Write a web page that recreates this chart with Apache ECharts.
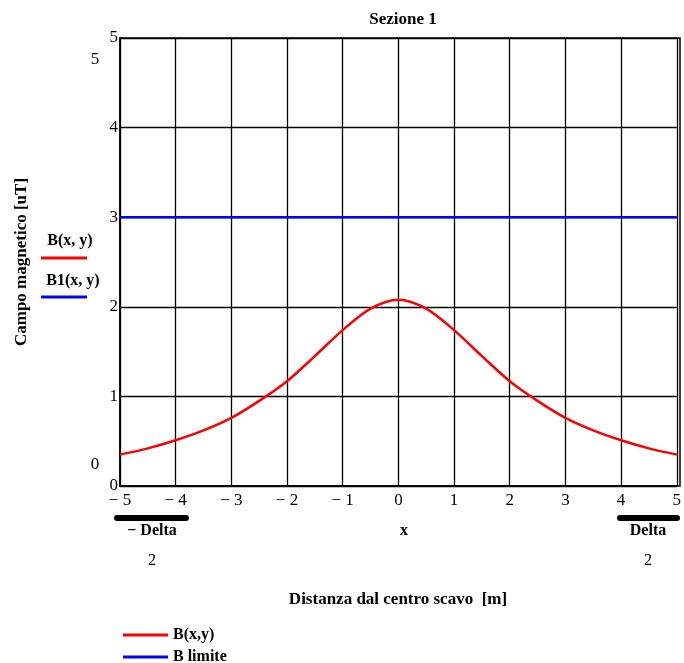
<!DOCTYPE html>
<html>
<head>
<meta charset="utf-8">
<script src="https://cdn.jsdelivr.net/npm/echarts@6/dist/echarts.min.js"></script>
<style>
  html, body { margin: 0; padding: 0; background: #fff; }
  #main { width: 684px; height: 663px; }
</style>
</head>
<body>
<div id="main"></div>
<script>
// distance from the centre (m)
const xs = [-5, -4.5, -4, -3.5, -3, -2.5, -2, -1.5, -1, -0.5, 0, 0.5, 1, 1.5, 2, 2.5, 3, 3.5, 4, 4.5, 5];
// B(x,y) in uT
const bVals = [0.35, 0.42, 0.51, 0.62, 0.76, 0.95, 1.17, 1.45, 1.74, 1.98, 2.08, 1.98, 1.74, 1.45, 1.17, 0.95, 0.76, 0.62, 0.51, 0.42, 0.35];
// B limite
const limX = [-5, 5];
const limVals = [3, 3];
const xTicks = ['\u2212 5', '\u2212 4', '\u2212 3', '\u2212 2', '\u2212 1', '0', '1', '2', '3', '4', '5'];

const serif = '"Liberation Serif", "DejaVu Serif", serif';

window.addEventListener('load', function () {
    let chart = echarts.init(document.getElementById('main'));
    let option = {
        backgroundColor: '#fff',
        animation: false,
        textStyle: { fontFamily: serif, color: '#000' },
        title: {
            text: 'Sezione 1',
            left: 398, top: 6,
            textAlign: 'center',
            textStyle: { fontFamily: serif, fontSize: 17, fontWeight: 'bold', color: '#000' }
        },
        grid: { left: 120, right: 4, top: 38, bottom: 177 },
        legend: {
            orient: 'vertical',
            left: 118, top: 622, height: 60,
            itemWidth: 45, itemHeight: 3, itemGap: 6,
            icon: 'rect',
            textStyle: { fontFamily: serif, fontSize: 16, fontWeight: 'bold', color: '#000' },
            data: ['B(x,y)', 'B limite']
        },
        xAxis: {
            type: 'value', min: -5, max: 5, interval: 1,
            axisLine: { show: true, onZero: false, lineStyle: { color: '#000', width: 1.5 } },
            axisTick: { show: false },
            axisLabel: {
                fontFamily: serif, fontSize: 17, color: '#000', margin: 6,
                formatter: function (v) { return xTicks[Math.round(v) + 5]; }
            },
            splitLine: { show: true, lineStyle: { color: '#000', width: 1.3 } }
        },
        yAxis: {
            type: 'value', min: 0, max: 5, interval: 1,
            axisLine: { show: true, onZero: false, lineStyle: { color: '#000', width: 1.5 } },
            axisTick: { show: false },
            axisLabel: { fontFamily: serif, fontSize: 17, color: '#000', margin: 2 },
            splitLine: { show: true, lineStyle: { color: '#000', width: 1.3 } }
        },
        series: [
            {
                name: 'B(x,y)', type: 'line', smooth: 0.3, showSymbol: false,
                data: xs.map((x, i) => [x, bVals[i]]),
                lineStyle: { color: '#ff0000', width: 2.5 },
                itemStyle: { color: '#ff0000' }
            },
            {
                name: 'B limite', type: 'line', showSymbol: false,
                data: limX.map((x, i) => [x, limVals[i]]),
                lineStyle: { color: '#0000ff', width: 2.5 },
                itemStyle: { color: '#0000ff' }
            }
        ],
        graphic: [
            // frame top & right
            { type: 'rect', shape: { x: 120, y: 38, width: 560, height: 448 }, style: { fill: 'none', stroke: '#000', lineWidth: 1.5 }, silent: true },
            // y axis name
            { type: 'text', x: 22, y: 262, rotation: Math.PI / 2, style: { text: 'Campo magnetico [uT]', font: 'bold 17px ' + serif, fill: '#000', align: 'center', verticalAlign: 'middle' } },
            // y range markers
            { type: 'text', x: 95, y: 60, style: { text: '5', font: '17px ' + serif, fill: '#000', align: 'center', verticalAlign: 'middle' } },
            { type: 'text', x: 95, y: 465, style: { text: '0', font: '17px ' + serif, fill: '#000', align: 'center', verticalAlign: 'middle' } },
            // left legend
            { type: 'text', x: 70, y: 241, style: { text: 'B(x, y)', font: 'bold 16px ' + serif, fill: '#000', align: 'center', verticalAlign: 'middle' } },
            { type: 'line', shape: { x1: 41, y1: 258, x2: 87, y2: 258 }, style: { stroke: '#ff0000', lineWidth: 3 } },
            { type: 'text', x: 73, y: 281, style: { text: 'B1(x, y)', font: 'bold 16px ' + serif, fill: '#000', align: 'center', verticalAlign: 'middle' } },
            { type: 'line', shape: { x1: 41, y1: 297, x2: 87, y2: 297 }, style: { stroke: '#0000ff', lineWidth: 3 } },
            // x annotations
            { type: 'line', shape: { x1: 117, y1: 518, x2: 186, y2: 518 }, style: { stroke: '#000', lineWidth: 6, lineCap: 'round' } },
            { type: 'text', x: 152, y: 531, style: { text: '\u2212 Delta', font: 'bold 16px ' + serif, fill: '#000', align: 'center', verticalAlign: 'middle' } },
            { type: 'text', x: 152, y: 561, style: { text: '2', font: '16px ' + serif, fill: '#000', align: 'center', verticalAlign: 'middle' } },
            { type: 'text', x: 404, y: 531, style: { text: 'x', font: 'bold 16px ' + serif, fill: '#000', align: 'center', verticalAlign: 'middle' } },
            { type: 'line', shape: { x1: 620, y1: 518, x2: 677, y2: 518 }, style: { stroke: '#000', lineWidth: 6, lineCap: 'round' } },
            { type: 'text', x: 648, y: 531, style: { text: 'Delta', font: 'bold 16px ' + serif, fill: '#000', align: 'center', verticalAlign: 'middle' } },
            { type: 'text', x: 648, y: 561, style: { text: '2', font: '16px ' + serif, fill: '#000', align: 'center', verticalAlign: 'middle' } },
            { type: 'text', x: 398, y: 600, style: { text: 'Distanza dal centro scavo  [m]', font: 'bold 17px ' + serif, fill: '#000', align: 'center', verticalAlign: 'middle' } }
        ]
    };
    chart.setOption(option);
}, false);
</script>
</body>
</html>
